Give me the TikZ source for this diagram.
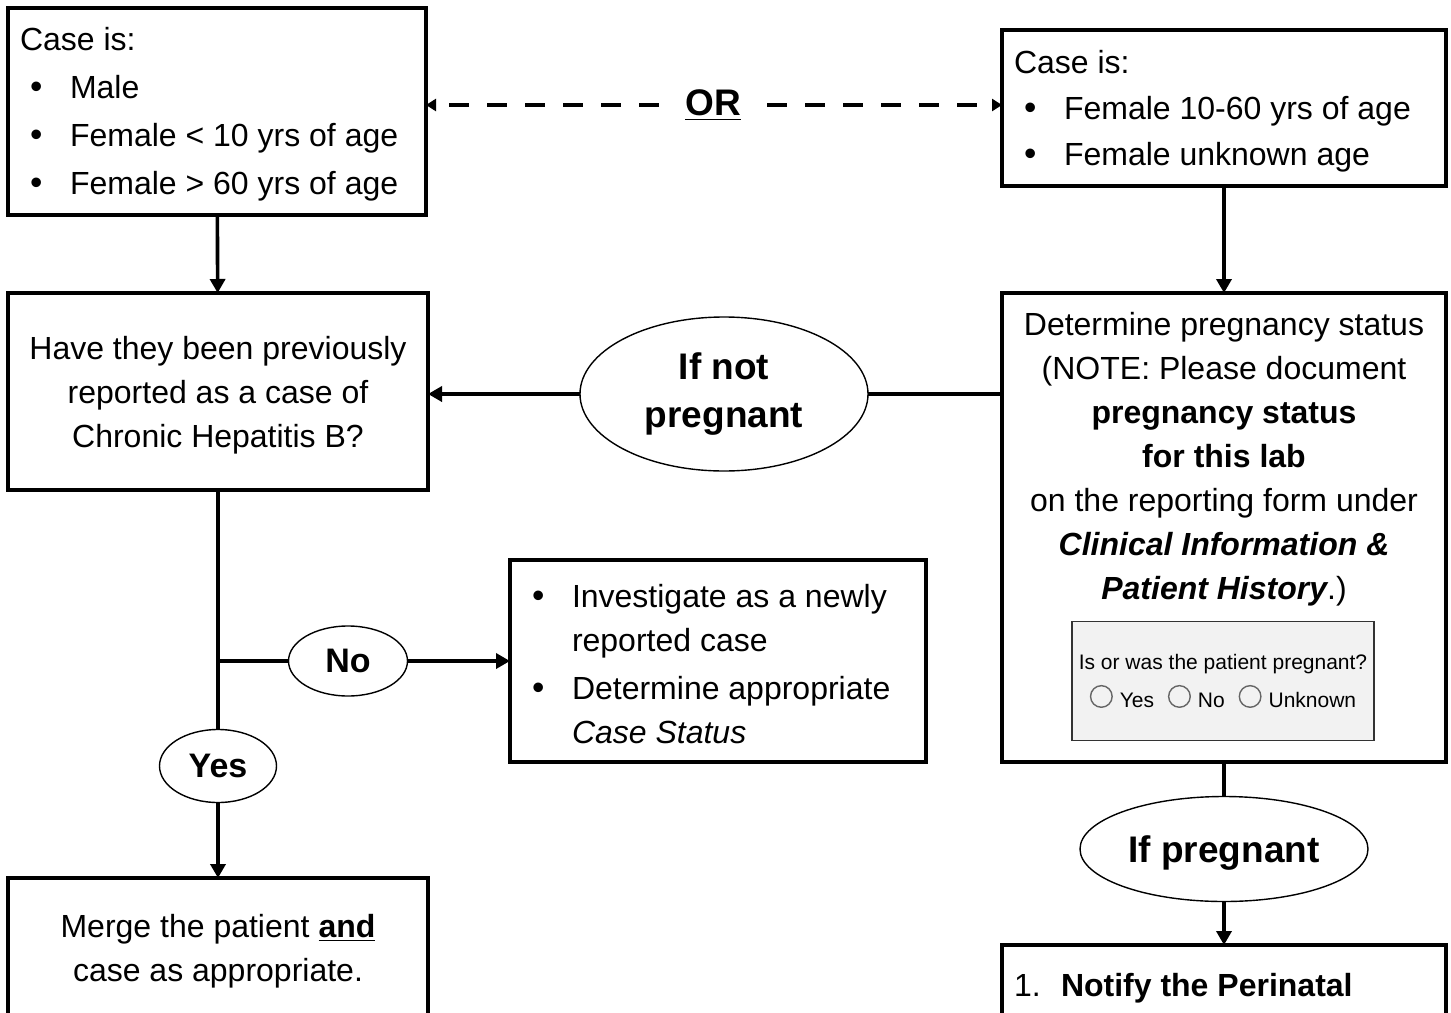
\documentclass[tikz,border=0pt]{standalone}
\usepackage{fontspec}
\setmainfont{Liberation Sans}
\usepackage{tikz}
\usetikzlibrary{arrows.meta,positioning,shapes.geometric}
\definecolor{formgray}{HTML}{F2F2F2}
\definecolor{radiogray}{HTML}{666666}
\newcommand{\bul}{\makebox[25pt][l]{\hspace{5pt}\scalebox{1.1}{\textbullet}}}
\newcommand{\radio}{\tikz[baseline=-5.4pt]\draw[radiogray, line width=0.7pt] (0pt,0pt) circle[radius=5.4pt];\hspace{3.5pt}}

\begin{document}
\begin{tikzpicture}[
  x=0.5pt, y=-0.5pt,
  box/.style={draw, line width=1.8pt, anchor=north west, outer sep=0pt, inner xsep=6pt,
              font=\fontsize{16}{22}\selectfont},
  textdown/.style={execute at begin node={\rule{0pt}{#1}}},
  listbox/.style={box, align=flush left, textdown=14.5pt},
  centerbox/.style={box, align=flush center, text width=198pt, textdown=14.7pt},
  label/.style={ellipse, draw, line width=0.7pt, inner sep=0pt, outer sep=0pt, align=center,
                font=\fontsize{18.5}{24}\selectfont\bfseries},
  plain/.style={align=center, font=\fontsize{16}{22}\selectfont},
  form/.style={draw=black!80, line width=0.6pt, fill=formgray, align=center,
               font=\fontsize{10.5}{19}\selectfont},
  line/.style={line width=1.8pt},
  arrow/.style={line width=1.8pt, -{Triangle[length=7pt,width=7.5pt]}},
  dasharrow/.style={line width=2.2pt, dash pattern=on 10pt off 9pt,
                    -{Triangle[length=5pt,width=6pt]}}
]
\useasboundingbox (0,0) rectangle (1451,1012);
\clip (0,0) rectangle (1451,1012);

\node[listbox, minimum width=209pt, minimum height=103.5pt, text width=197pt] (caseA) at (8,8)
  {Case is:\\[2pt]
   \bul Male\\[2pt]
   \bul Female < 10 yrs of age\\[2pt]
   \bul Female > 60 yrs of age};
\node[listbox, minimum width=222pt, minimum height=78pt, text width=210pt] (caseB) at (1002,30)
  {Case is:\\[1pt]
   \bul Female 10-60 yrs of age\\[1pt]
   \bul Female unknown age};
\node[font=\fontsize{18.5}{24}\selectfont\bfseries, inner xsep=13pt] (orlabel) at (713,105) {\underline{OR}};

\node[centerbox, textdown=15.7pt, minimum width=210pt, minimum height=98.5pt] (prev) at (8,293)
  {Have they been previously\\ reported as a case of\\ Chronic Hepatitis B?};
\node[box, textdown=0pt, minimum width=222pt, minimum height=234.5pt] (status) at (1002,293) {};
\node[plain] (statustext) at (1224,459)
  {Determine pregnancy status\\
   (NOTE: Please document\\
   \textbf{pregnancy status}\\
   \textbf{for this lab}\\
   on the reporting form under\\
   {\bfseries\itshape Clinical Information \&}\\
   {\bfseries\itshape Patient History}.)};
\node[form, minimum width=151pt, minimum height=59.5pt] (form) at (1223,681)
  {Is or was the patient pregnant?\\
   \radio Yes\hspace{4pt} \radio No\hspace{4pt} \radio Unknown};

\node[label, minimum width=144pt, minimum height=77pt] (notpreg) at (724,394) {If not\\ pregnant};
\node[label, minimum width=59.5pt, minimum height=35pt, font=\fontsize{17}{20}\selectfont\bfseries] (no) at (348,661) {No};
\node[label, minimum width=58.5pt, minimum height=36.5pt, font=\fontsize{17}{20}\selectfont\bfseries] (yes) at (218,766) {Yes};
\node[label, minimum width=144pt, minimum height=52.5pt, text depth=0pt] (preg) at (1224,849) {If pregnant};

\node[listbox, textdown=12.7pt, minimum width=208pt, minimum height=101pt, text width=196pt] (newcase) at (510,560)
  {\bul Investigate as a newly\\
   \hspace*{25pt}reported case\\[2pt]
   \bul Determine appropriate\\
   \hspace*{25pt}\textit{Case Status}};
\node[centerbox, minimum width=210pt, minimum height=70pt] (merge) at (8,878)
  {Merge the patient \textbf{\underline{and}}\\ case as appropriate.};
\node[listbox, textdown=14.7pt, minimum width=222pt, minimum height=40pt, text width=210pt] (notify) at (1002,945)
  {\makebox[23.5pt][l]{1.}\textbf{Notify the Perinatal}};

\coordinate (split) at (prev.south |- no.west);

\draw[dasharrow] (orlabel) -- (caseA.east |- orlabel);
\draw[dasharrow] (orlabel) -- (caseB.west |- orlabel);
\draw[arrow] (caseA) -- (prev);
\draw[arrow] (caseB) -- (status);
\draw[line] (status.west |- notpreg) -- (notpreg);
\draw[arrow] (notpreg) -- (prev.east |- notpreg);
\draw[line] (prev.south) -- (yes);
\draw[arrow] (yes) -- (merge);
\draw[line] (split) -- (no);
\draw[arrow] (no) -- (newcase.west |- no);
\draw[line] (status.south) -- (preg);
\draw[arrow] (preg) -- (notify);
\end{tikzpicture}
\end{document}
